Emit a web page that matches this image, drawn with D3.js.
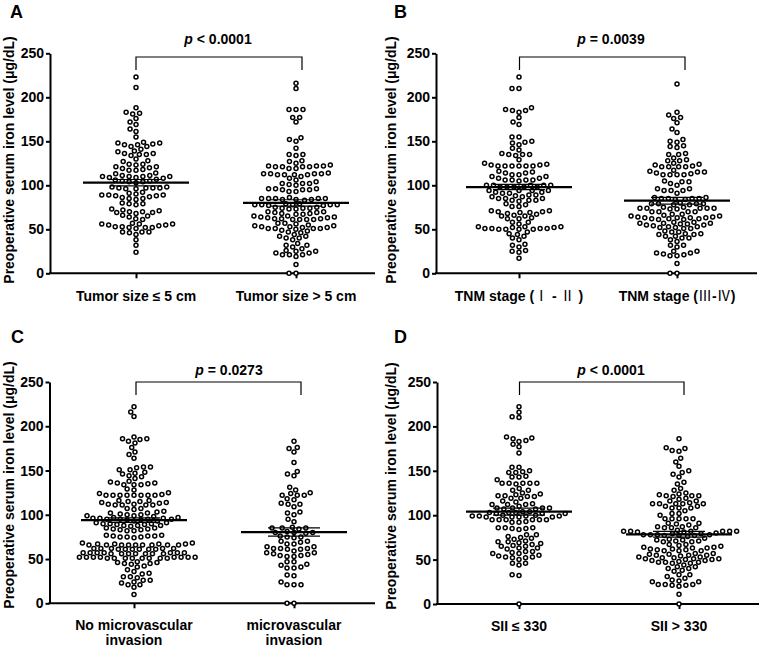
<!DOCTYPE html>
<html>
<head>
<meta charset="utf-8">
<script src="https://cdn.jsdelivr.net/npm/d3@7"></script>
<style>
  body { margin: 0; background: #fff; }
  svg text { font-family: "Liberation Sans", Arial, "Noto Sans CJK SC", sans-serif; font-weight: bold; fill: #000; }
</style>
</head>
<body>
<svg width="764" height="650"></svg>
<script>
// values (µg/dL), one entry per dot
const tumorSmall = [223, 211, 188, 183, 181, 182, 176, 172, 169, 164, 161, 155,
  149, 148, 147, 146, 144, 144, 146, 148, 141, 139, 136, 135, 134, 135, 136, 138,
  130, 128, 124, 124, 127, 123, 121, 119, 117, 117, 118, 120, 121,
  114, 111, 110, 109, 109, 110, 110, 111, 110, 113, 108, 106, 105, 104, 103, 104, 105, 107,
  98, 97, 97, 96, 96, 97, 97, 98, 92, 90, 89, 88, 87, 88, 89, 89, 91,
  86, 85, 85, 84, 80, 79, 79, 78, 73, 71, 70, 69, 68, 69, 70, 72, 66, 64, 61, 62, 65,
  57, 56, 56, 55, 53, 52, 51, 52, 52, 53, 54, 55, 56, 47, 44, 46, 47, 47, 38, 32, 24];
const tumorLarge = [216, 210, 186, 186, 186, 177, 172, 177, 154, 152, 150, 142, 135, 134, 128, 135, 127,
  125, 122, 121, 121, 122, 119, 119, 121, 121, 122, 123,
  114, 113, 113, 112, 112, 110, 108, 112, 112, 113, 113, 106, 102, 102, 100, 101, 102, 104,
  96, 96, 95, 93, 93, 95, 95, 96, 86, 85, 85, 84, 84, 85, 84, 85, 85, 83,
  79, 78, 78, 77, 78, 78, 77, 78, 79, 75, 74, 73, 73, 74, 74, 75, 70, 69, 68, 68, 69, 70,
  67, 65, 64, 63, 62, 61, 61, 61, 61, 62, 62, 63, 64, 65, 67,
  57, 56, 54, 53, 52, 51, 51, 51, 51, 52, 53, 54, 55, 57, 50, 49, 47, 46, 48,
  44, 42, 40, 40, 38, 42, 34, 32, 30, 28, 32, 26, 25, 23, 21, 19, 21, 21, 23, 25, 10, 0, 0];

const tnmEarly = [223, 210, 210, 188, 186, 185, 185, 183, 177, 172, 169,
  155, 155, 150, 149, 148, 146, 142, 140, 136, 135, 135, 135, 134, 129,
  125, 124, 123, 123, 122, 122, 122, 122, 122, 122, 116, 115, 114, 114, 112, 112, 110, 110,
  108, 108, 106, 106, 106, 105, 106, 100, 100, 100, 100, 100, 98, 98, 98, 98, 98,
  94, 94, 94, 94, 92, 92, 91, 91, 89, 89, 88, 87, 87, 85, 85, 85, 83, 83,
  83, 82, 79, 78, 76, 76, 71, 71, 70, 70, 69, 69, 68, 67, 66, 65, 65, 63,
  62, 62, 58, 58, 56, 53, 53, 53, 52, 52, 51, 51, 51, 51, 50, 50, 50, 50,
  47, 45, 44, 42, 40, 38, 33, 32, 30, 26, 25, 24, 17];
const tnmLate = [215, 183, 180, 177, 176, 171, 164, 160, 152, 150, 149, 145, 144, 143,
  136, 135, 135, 131, 129, 128, 128, 125, 124, 123, 122, 121, 121, 121, 121,
  117, 116, 115, 115, 114, 113, 112, 112, 112, 112, 105, 104, 104, 102, 100,
  96, 96, 94, 94, 94, 91, 86, 86, 85, 85, 85, 85, 84, 84, 80, 79, 79, 79, 79, 78, 78,
  75, 75, 74, 74, 74, 73, 73, 74, 74, 70, 70, 70, 70,
  67, 67, 66, 65, 65, 64, 64, 63, 63, 63, 63, 62, 62, 62, 61, 61,
  58, 58, 57, 57, 57, 56, 56, 55, 55, 54, 53, 53, 52, 52, 51, 51,
  48, 47, 47, 45, 45, 44, 44, 42, 42, 40, 40, 38, 36, 32, 32, 30,
  25, 25, 23, 23, 22, 21, 20, 20, 11, 0, 0];

const mviNo = [222, 216, 211, 188, 186, 186, 185, 183, 181, 176, 171, 168, 164,
  154, 154, 153, 151, 151, 148, 147, 146, 144, 143, 141, 138, 137, 136, 136, 135, 134, 134, 134,
  129, 128, 125, 124, 123, 122, 122, 122, 122, 122, 122, 122, 122,
  116, 116, 115, 115, 114, 114, 113, 112, 112, 111, 111, 111, 111, 107, 107, 106, 104, 103,
  102, 102, 101, 100, 100, 99, 99, 98, 97, 97, 96, 96, 96, 95, 95, 95, 95, 94, 94, 93, 93,
  91, 91, 90, 90, 90, 89, 89, 88, 88, 88, 87, 85, 85, 84, 84, 83, 83, 82, 82,
  77, 77, 76, 76, 76, 75, 75, 75, 74,
  68, 68, 67, 67, 67, 67, 66, 66, 66, 66, 66, 66, 66, 66, 66,
  62, 62, 62, 62, 62, 61, 61, 61, 61, 61, 61,
  57, 57, 57, 57, 57, 57, 57, 56, 56, 56, 56, 56, 56, 56,
  52, 52, 52, 52, 52, 52, 52, 52, 51, 51, 51, 51, 51, 51, 51, 51,
  47, 46, 46, 45, 45, 44, 42, 41, 38, 36, 34, 33, 30, 30, 29, 26, 26, 24, 23, 21, 21, 18, 10];
const mviYes = [183, 176, 175, 171, 159, 149, 146, 144, 131, 128, 125, 124, 122, 122, 122,
  118, 117, 113, 112, 112, 109, 103, 102, 100, 95, 92, 86, 85, 85, 85, 84, 81, 80, 80, 80, 79,
  76, 75, 75, 74, 70, 70, 69, 67, 67, 64, 64, 62, 62, 62, 61, 61,
  59, 57, 57, 56, 55, 54, 54, 53, 53, 47, 47, 44, 43, 41, 40, 40, 32, 31, 24, 21, 21, 21, 0, 0];

const siiLow = [222, 216, 211, 210, 188, 187, 186, 184, 183, 180, 177, 170,
  154, 154, 150, 149, 148, 148, 144, 143, 143, 140, 136, 136, 136, 136, 136, 135, 130, 128, 128,
  125, 124, 123, 122, 122, 121, 121, 119, 119, 116, 115, 113, 112, 112, 112, 110,
  108, 108, 108, 108, 107, 107, 104, 104, 103, 103, 103, 102, 102, 102,
  100, 99, 99, 99, 99, 98, 98, 98, 98, 100, 95, 95, 95, 95, 95, 95, 93, 92, 92,
  86, 86, 86, 85, 85, 84, 78, 78, 76, 75, 74, 73, 71, 70, 70, 69, 68, 67,
  66, 65, 65, 63, 63, 62, 59, 59, 58, 57, 57, 55, 54, 53, 53, 52, 52, 50, 46, 46, 44, 33, 32, 0];
const siiHigh = [186, 176, 175, 173, 172, 164, 160, 155, 150, 148, 146, 143, 137, 135, 130, 128,
  125, 124, 123, 122, 122, 122, 121, 119, 118, 116, 116, 114, 113, 113, 113, 113, 113,
  110, 110, 108, 108, 108, 105, 102, 102, 100, 96, 96, 96, 96, 96, 91, 91, 90, 89, 87, 87, 86, 86, 86,
  83, 82, 82, 82, 82, 82, 82, 81, 81, 80, 79, 79, 78, 78, 78, 78, 77, 77, 77, 76,
  74, 73, 72, 72, 71, 71, 70, 70, 67, 67, 66, 65, 64, 64, 63, 63, 62, 62, 61, 61, 60, 60, 60,
  57, 57, 56, 56, 55, 55, 55, 54, 53, 53, 52, 52, 51, 51, 51, 50, 50, 49, 49, 48, 47, 47, 47, 46, 46,
  44, 42, 42, 40, 40, 38, 37, 33, 33, 31, 29, 27, 26, 25, 25, 22, 22, 22, 21, 21, 20, 11, 0];

const tumorCats = ["Tumor size ≤ 5 cm", "Tumor size > 5 cm"];
const tnmCats = ["TNM stage (Ⅰ - Ⅱ )", "TNM stage (Ⅲ-Ⅳ)"];
const mviCats = ["No microvascular|invasion", "microvascular|invasion"];
const siiCats = ["SII ≤ 330", "SII > 330"];

// mean and SEM per group, as drawn
const tumorMeans = [103, 80], tumorSems = [3.6, 3.6];
const tnmMeans = [98, 82.5], tnmSems = [3, 3.8];
const mviMeans = [94, 80.5], mviSems = [2.6, 4.6];
const siiMeans = [104, 78.5], siiSems = [4, 3.2];

const pValues = ["< 0.0001", "= 0.0039", "= 0.0273", "< 0.0001"];
const yTicks = [0, 50, 100, 150, 200, 250];
const yTitle = "Preoperative serum iron level (μg/dL)";

const svg = d3.select("svg");
const fontFamily = '"Liberation Sans", Arial, "Noto Sans CJK SC", sans-serif';
const cjkFont = '"Noto Sans CJK SC", "Noto Sans CJK JP", sans-serif';

const panels = [
  { letter: "A", lx: 10, ly: 18, cats: tumorCats, groups: [tumorSmall, tumorLarge], means: tumorMeans, sems: tumorSems, p: pValues[0],
    left: 50, right: 375, top: 53.3, bottom: 273.3, centers: [136, 296], bracket: [136, 302], bTop: 57, bDrop: 70, pX: 218, pY: 44,
    titleX: 14, titleY: 160, labelY: 301 },
  { letter: "B", lx: 394, ly: 18, cats: tnmCats, groups: [tnmEarly, tnmLate], means: tnmMeans, sems: tnmSems, p: pValues[1],
    left: 436, right: 757, top: 53.3, bottom: 273.3, centers: [519, 677], bracket: [519.5, 685], bTop: 57, bDrop: 70, pX: 611, pY: 44,
    titleX: 396, titleY: 160, labelY: 301 },
  { letter: "C", lx: 11, ly: 343, cats: mviCats, groups: [mviNo, mviYes], means: mviMeans, sems: mviSems, p: pValues[2],
    left: 49.5, right: 375, top: 382, bottom: 603.3, centers: [134, 294], bracket: [136, 301], bTop: 382, bDrop: 395, pX: 229, pY: 375,
    titleX: 14, titleY: 485, labelY: 630 },
  { letter: "D", lx: 394, ly: 343, cats: siiCats, groups: [siiLow, siiHigh], means: siiMeans, sems: siiSems, p: pValues[3],
    left: 437, right: 759, top: 382, bottom: 604, centers: [519, 679], bracket: [519.5, 684], bTop: 382, bDrop: 395, pX: 611, pY: 375,
    titleX: 396, titleY: 486, labelY: 631 }
];

// beeswarm, Prism-like: lowest values first, each dot pushed sideways until it
// clears the others; the keep-out zone is wider than tall so rows can stack
function swarm(values, y, gx, gy) {
  const placed = [];
  values.slice().sort((a, b) => a - b).forEach(v => {
    const py = y(v);
    const blocks = [];
    placed.forEach(p => {
      const dy = Math.abs(p.py - py);
      if (dy < gy) {
        const dx = gx * Math.sqrt(1 - (dy / gy) * (dy / gy));
        blocks.push([p.dx - dx, p.dx + dx]);
      }
    });
    const cands = [0];
    blocks.forEach(b => cands.push(b[0], b[1]));
    cands.sort((a, b) => Math.abs(a) - Math.abs(b));
    let dx = 0;
    for (const c of cands) {
      if (blocks.every(b => c <= b[0] + 1e-6 || c >= b[1] - 1e-6)) { dx = c; break; }
    }
    placed.push({ value: v, dx: dx, py: py });
  });
  return placed;
}

// roman numerals are set in the CJK face, like the original
function addRuns(tspan, s) {
  s.split(/([\u2160-\u216F]+)/).filter(r => r.length).forEach(r => {
    const t = tspan.append("tspan").text(r);
    if (/[\u2160-\u216F]/.test(r)) t.attr("font-family", cjkFont).attr("font-weight", "normal");
  });
}

panels.forEach(pn => {
  const g = svg.append("g");
  const y = d3.scaleLinear().domain([0, 250]).range([pn.bottom, pn.top]);
  const x = d3.scalePoint().domain(pn.cats).range(pn.centers);

  // y axis
  const yAxis = g.append("g")
    .attr("transform", `translate(${pn.left},0)`)
    .call(d3.axisLeft(y).tickValues(yTicks).tickSize(4).tickPadding(2).tickSizeOuter(0));
  yAxis.attr("font-size", 14).attr("font-family", fontFamily).attr("font-weight", "bold");
  yAxis.selectAll("path, line").attr("stroke", "#000").attr("stroke-width", 2);

  // x axis line + category ticks
  g.append("line")
    .attr("x1", pn.left - 1).attr("x2", pn.right)
    .attr("y1", pn.bottom).attr("y2", pn.bottom)
    .attr("stroke", "#000").attr("stroke-width", 2);
  const xAxis = g.append("g")
    .attr("transform", `translate(0,${pn.bottom})`)
    .call(d3.axisBottom(x).tickSize(5).tickFormat(""));
  xAxis.select(".domain").remove();
  xAxis.selectAll("line").attr("stroke", "#000").attr("stroke-width", 2);

  // category labels (| splits lines)
  pn.cats.forEach(c => {
    const t = g.append("text")
      .attr("x", x(c)).attr("y", pn.labelY)
      .attr("text-anchor", "middle").attr("font-size", 14);
    c.split("|").forEach((s, i) => {
      const line = t.append("tspan").attr("x", x(c)).attr("dy", i === 0 ? 0 : 15);
      addRuns(line, s);
    });
  });

  // y title
  g.append("text")
    .attr("transform", `translate(${pn.titleX},${pn.titleY}) rotate(-90)`)
    .attr("text-anchor", "middle").attr("font-size", 14)
    .text(yTitle);

  // panel letter
  g.append("text").attr("x", pn.lx).attr("y", pn.ly).attr("font-size", 18).text(pn.letter);

  // dots
  pn.groups.forEach((vals, gi) => {
    const cat = pn.cats[gi];
    g.append("g").selectAll("circle")
      .data(swarm(vals, y, 7, 5))
      .enter()
      .append("circle")
      .attr("cx", d => x(cat) + d.dx)
      .attr("cy", d => y(d.value))
      .attr("r", 2)
      .attr("fill", "#fff")
      .attr("stroke", "#000")
      .attr("stroke-width", 1.5);
  });

  // mean +/- SEM
  pn.cats.forEach((cat, gi) => {
    const m = pn.means[gi], s = pn.sems[gi], cx = x(cat);
    g.append("line").attr("x1", cx).attr("x2", cx).attr("y1", y(m - s)).attr("y2", y(m + s))
      .attr("stroke", "#000").attr("stroke-width", 1.2);
    [m - s, m + s].forEach(v => {
      g.append("line").attr("x1", cx - 26).attr("x2", cx + 26).attr("y1", y(v)).attr("y2", y(v))
        .attr("stroke", "#000").attr("stroke-width", 1.2);
    });
    g.append("line").attr("x1", cx - 53).attr("x2", cx + 53).attr("y1", y(m)).attr("y2", y(m))
      .attr("stroke", "#000").attr("stroke-width", 2.2);
  });

  // significance bracket
  g.append("path")
    .attr("d", `M${pn.bracket[0]},${pn.bDrop}V${pn.bTop}H${pn.bracket[1]}V${pn.bDrop}`)
    .attr("fill", "none").attr("stroke", "#000").attr("stroke-width", 1.2);
  const pt = g.append("text").attr("x", pn.pX).attr("y", pn.pY).attr("text-anchor", "middle").attr("font-size", 14);
  pt.append("tspan").attr("font-style", "italic").text("p");
  pt.append("tspan").text(" " + pn.p);
});
</script>
</body>
</html>
